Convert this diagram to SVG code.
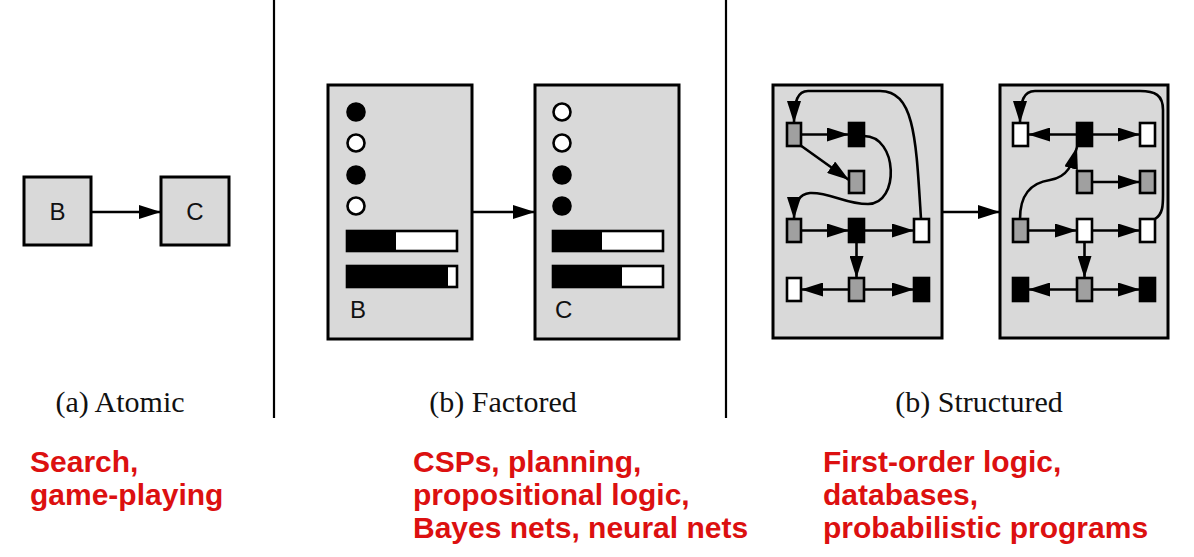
<svg xmlns="http://www.w3.org/2000/svg" width="1194" height="557" viewBox="0 0 1194 557">
<style>
.box{fill:#d9d9d9;stroke:#000;stroke-width:3}
.n{stroke:#000;stroke-width:2.6}
.g{fill:#a0a0a0}.w{fill:#fff}.k{fill:#000}
.e{fill:none;stroke:#000;stroke-width:2.6;marker-end:url(#ah)}
.lbl{font-family:"Liberation Sans",Arial,sans-serif;font-size:24px;fill:#111}
.cap{font-family:"Liberation Serif","Times New Roman",serif;font-size:30px;fill:#111;text-anchor:middle}
.red{font-family:"Liberation Sans",Arial,sans-serif;font-size:30px;font-weight:bold;fill:#dc1010}
.div{stroke:#000;stroke-width:2.2}
</style>
<defs>
<marker id="ah" markerUnits="userSpaceOnUse" markerWidth="22" markerHeight="14" refX="22" refY="7" orient="auto"><path d="M0,0 L22,7 L0,14 z" fill="#000"/></marker>
</defs>
<rect width="1194" height="557" fill="#fff"/>
<line class="div" x1="274" y1="0" x2="274" y2="418"/>
<line class="div" x1="726" y1="0" x2="726" y2="418"/>

<g id="atomic-B"><rect class="box" x="24" y="177" width="67" height="68"/><text class="lbl" x="57.5" y="220" text-anchor="middle">B</text></g>
<g id="atomic-C"><rect class="box" x="161" y="177" width="68" height="68"/><text class="lbl" x="195" y="220" text-anchor="middle">C</text></g>

<g id="factored-B">
<rect class="box" x="328" y="85" width="144" height="254"/>
<circle class="n k" cx="356" cy="112" r="8.5"/>
<circle class="n w" cx="356" cy="143" r="8.5"/>
<circle class="n k" cx="356" cy="175" r="8.5"/>
<circle class="n w" cx="356" cy="206" r="8.5"/>
<rect class="n w" x="347" y="231" width="110" height="20"/><rect class="k" x="347" y="231" width="49" height="20"/>
<rect class="n w" x="347" y="266" width="110" height="21"/><rect class="k" x="347" y="266" width="101" height="21"/>
<text class="lbl" x="350" y="318">B</text>
</g>
<g id="factored-C">
<rect class="box" x="535" y="85" width="144" height="254"/>
<circle class="n w" cx="562" cy="112" r="8.5"/>
<circle class="n w" cx="562" cy="143" r="8.5"/>
<circle class="n k" cx="562" cy="175" r="8.5"/>
<circle class="n k" cx="562" cy="206" r="8.5"/>
<rect class="n w" x="553" y="231" width="110" height="20"/><rect class="k" x="553" y="231" width="49" height="20"/>
<rect class="n w" x="553" y="266" width="110" height="21"/><rect class="k" x="553" y="266" width="69" height="21"/>
<text class="lbl" x="555" y="318">C</text>
</g>

<g id="structured-1">
<rect class="box" x="773" y="85" width="169" height="253"/>
<rect class="n g" x="787" y="123" width="14" height="23"/>
<rect class="n k" x="849" y="123" width="15" height="23"/>
<rect class="n g" x="849" y="171" width="15" height="22"/>
<rect class="n g" x="787" y="219" width="14" height="23"/>
<rect class="n k" x="849" y="219" width="15" height="23"/>
<rect class="n w" x="914" y="219" width="15" height="23"/>
<rect class="n w" x="787" y="278" width="14" height="23"/>
<rect class="n g" x="849" y="278" width="15" height="23"/>
<rect class="n k" x="914" y="278" width="15" height="23"/>
</g>
<g id="structured-2">
<rect class="box" x="1000" y="85" width="168" height="253"/>
<rect class="n w" x="1013" y="123" width="15" height="23"/>
<rect class="n k" x="1077" y="123" width="15" height="23"/>
<rect class="n w" x="1140" y="123" width="15" height="23"/>
<rect class="n g" x="1077" y="171" width="15" height="22"/>
<rect class="n g" x="1140" y="171" width="15" height="22"/>
<rect class="n g" x="1013" y="219" width="15" height="23"/>
<rect class="n w" x="1077" y="219" width="15" height="23"/>
<rect class="n w" x="1140" y="219" width="15" height="23"/>
<rect class="n k" x="1013" y="278" width="15" height="23"/>
<rect class="n g" x="1077" y="278" width="15" height="23"/>
<rect class="n k" x="1140" y="278" width="15" height="23"/>
</g>

<g id="connectors">
<path class="e" d="M91,212 L161,212"/>
<path class="e" d="M472,212 L535,212"/>
<path class="e" d="M942,212 L1000,212"/>
<path class="e" d="M801,134.5 L849,134.5"/>
<path class="e" d="M800,145 L849,180"/>
<path class="e" d="M801,230.5 L849,230.5"/>
<path class="e" d="M864,230.5 L914,230.5"/>
<path class="e" d="M856.5,242 L856.5,278"/>
<path class="e" d="M849,289.5 L801,289.5"/>
<path class="e" d="M864,289.5 L914,289.5"/>
<path class="e" d="M864,136 C898,136 900,204 868,204 C845,204 830,192 810,193 C798,194 794,205 794,219"/>
<path class="e" d="M921,219 C916,140 915,91 880,91 L808,91 C798,91 794,100 794,123"/>
<path class="e" d="M1077,134.5 L1028,134.5"/>
<path class="e" d="M1092,134.5 L1140,134.5"/>
<path class="e" d="M1092,182 L1140,182"/>
<path class="e" d="M1028,230.5 L1077,230.5"/>
<path class="e" d="M1092,230.5 L1140,230.5"/>
<path class="e" d="M1084.5,242 L1084.5,278"/>
<path class="e" d="M1077,289.5 L1028,289.5"/>
<path class="e" d="M1092,289.5 L1140,289.5"/>
<path class="e" d="M1020,219 C1020,195 1030,183 1050,180 C1068,177 1072,165 1077,147"/>
<path class="e" d="M1155,219 C1163,214 1163,205 1163,195 L1163,110 C1163,95 1155,91 1140,91 L1035,91 C1024,91 1020,100 1020,123"/>
</g>

<text class="cap" x="120" y="412">(a) Atomic</text>
<text class="cap" x="503" y="412">(b) Factored</text>
<text class="cap" x="979" y="412">(b) Structured</text>

<text class="red" x="30" y="472">Search,</text>
<text class="red" x="30" y="505">game-playing</text>
<text class="red" x="413" y="472">CSPs, planning,</text>
<text class="red" x="413" y="505">propositional logic,</text>
<text class="red" x="413" y="538">Bayes nets, neural nets</text>
<text class="red" x="823" y="472">First-order logic,</text>
<text class="red" x="823" y="505">databases,</text>
<text class="red" x="823" y="538">probabilistic programs</text>
</svg>
